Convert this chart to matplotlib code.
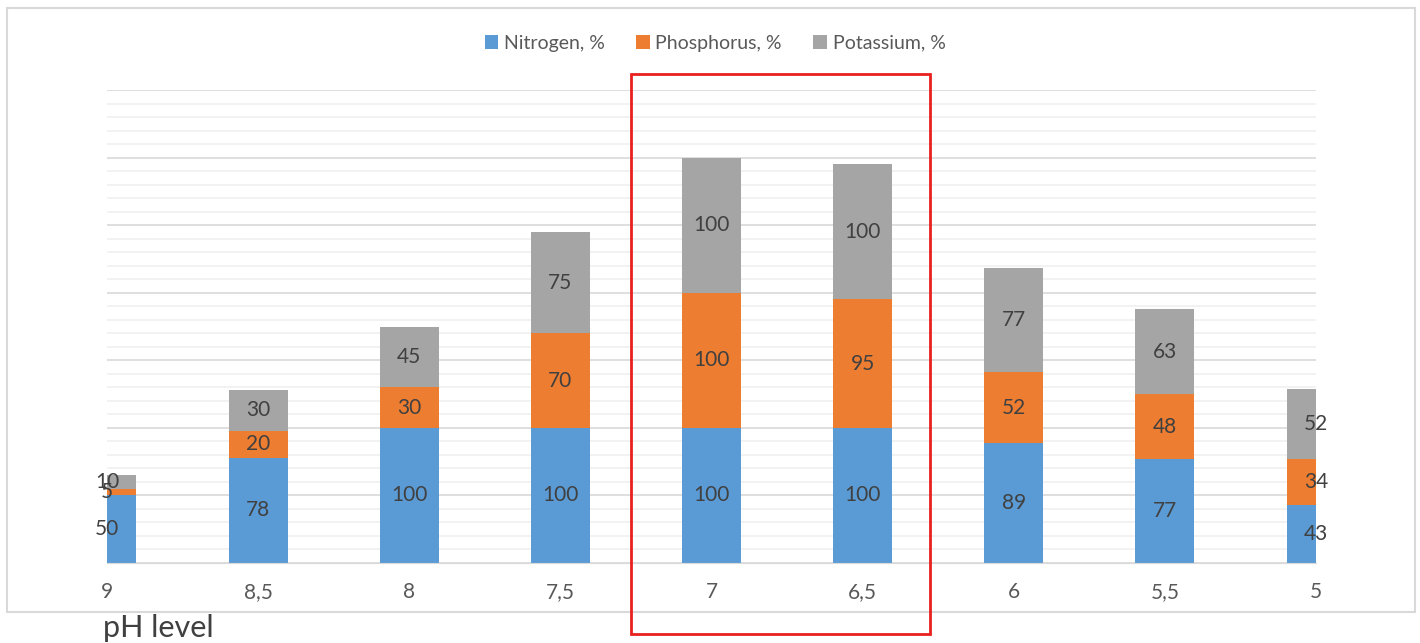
import matplotlib
matplotlib.use("Agg")
import matplotlib.pyplot as plt
from matplotlib.patches import Rectangle
import numpy as np

plt.rcParams["font.family"] = ["Lato", "DejaVu Sans"]

ph_labels = ["9", "8,5", "8", "7,5", "7", "6,5", "6", "5,5", "5"]
nitrogen = [50, 78, 100, 100, 100, 100, 89, 77, 43]
phosphorus = [5, 20, 30, 70, 100, 95, 52, 48, 34]
potassium = [10, 30, 45, 75, 100, 100, 77, 63, 52]

series = [
    ("Nitrogen, %", nitrogen, "#5B9BD5"),
    ("Phosphorus, %", phosphorus, "#ED7D31"),
    ("Potassium, %", potassium, "#A5A5A5"),
]

W, H = 1420, 643
fig = plt.figure(figsize=(W / 100, H / 100), dpi=100)
ax = fig.add_axes([107 / W, 1 - 563 / H, (1316 - 107) / W, (563 - 90) / H])

x = np.arange(len(ph_labels))
bottom = np.zeros(len(ph_labels))
for name, vals, col in series:
    vals = np.array(vals, dtype=float)
    ax.bar(x, vals, width=0.39, bottom=bottom, color=col, label=name, zorder=2)
    for xi, b, v in zip(x, bottom, vals):
        ax.text(xi, b + v / 2, f"{int(v)}", ha="center", va="center",
                fontsize=15, color="#404040", clip_on=False, zorder=3)
    bottom += vals

ax.set_xlim(0, len(ph_labels) - 1)
ax.set_ylim(0, 350)
ax.set_xticks(x)
ax.set_xticklabels(ph_labels, fontsize=15, color="#595959")
ax.set_yticks(np.arange(0, 351, 50))
ax.set_yticks(np.arange(0, 351, 10), minor=True)
ax.tick_params(axis="y", which="both", left=False, labelleft=False)
ax.tick_params(axis="x", length=0, pad=14)
ax.grid(axis="y", which="major", color="#d9d9d9", lw=1.2, zorder=0)
ax.grid(axis="y", which="minor", color="#f0f0f0", lw=1.2, zorder=0)
ax.set_axisbelow(True)
for s in ["top", "right", "left"]:
    ax.spines[s].set_visible(False)
ax.spines["bottom"].set_color("#d9d9d9")

fig.legend(loc="center", bbox_to_anchor=(715 / W, 1 - 43 / H), ncol=3,
           frameon=False, fontsize=14, handlelength=0.7, handleheight=0.7,
           handletextpad=0.3, columnspacing=1.6, labelcolor="#595959")

fig.text(103 / W, 1 - 628 / H, "pH level", fontsize=22, color="#404040",
         ha="left", va="center")

# chart border
fig.patches.append(Rectangle((7 / W, 1 - 612 / H), (1415 - 7) / W, (612 - 8) / H,
                             transform=fig.transFigure, fill=False,
                             edgecolor="#d9d9d9", lw=1.5))
# red highlight box
fig.patches.append(Rectangle((631 / W, 1 - 634 / H), (930 - 631) / W, (634 - 74) / H,
                             transform=fig.transFigure, fill=False,
                             edgecolor="#e8201e", lw=2))

fig.savefig("out.png", dpi=100)
